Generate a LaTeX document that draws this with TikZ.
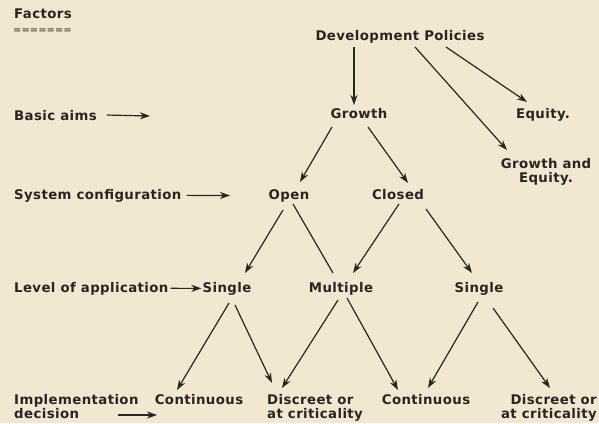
\documentclass[tikz,border=0pt]{standalone}
\usepackage{fontspec}
\setmainfont{DejaVu Sans}[LetterSpace=3]
\newfontfamily\rulefont{DejaVu Sans}
\usetikzlibrary{arrows.meta}
\definecolor{paper}{HTML}{F2E7D0}
\definecolor{ink}{HTML}{2A2521}

\begin{document}
\begin{tikzpicture}[x=1pt,y=-1pt,
  lbl/.style={text=ink, inner sep=1pt, font=\fontsize{13.3}{14}\selectfont\bfseries},
  rulemark/.style={text=ink, inner sep=0pt, font=\rulefont\fontsize{10}{10}\selectfont},
  arr/.style={draw=ink, line width=1.2pt, -{Stealth[length=10pt,width=7pt,inset=3pt]}},
  link/.style={draw=ink, line width=1.2pt}]

% paper
\fill[paper] (0,0) rectangle (599,423);
\useasboundingbox (0,0) rectangle (599,423);

% factor column
\node[lbl, anchor=base west] (fac) at (13,18) {Factors};
\node[rulemark, anchor=base west] (facul) at (13,33) {=======};
\node[lbl, anchor=base west] (ba) at (13,120) {Basic aims};
\node[lbl, anchor=base west] (sc) at (13,199) {System configuration};
\node[lbl, anchor=base west] (la) at (13,292) {Level of application};
\node[lbl, anchor=north west, align=left] (id) at (13,393) {Implementation\\decision};

\coordinate (baT) at (150,116);
\coordinate (scT) at (230,195.5);

% tree of policies
\node[lbl, anchor=base] (dp) at (400,40) {Development Policies};
\node[lbl, anchor=base] (gr) at (359,118) {Growth};
\node[lbl, anchor=base] (eq) at (543,118) {Equity.};
\node[lbl, anchor=north, align=center] (ge) at (546,157) {Growth and\\Equity.};
\node[lbl, anchor=base] (op) at (289,199) {Open};
\node[lbl, anchor=base] (cl) at (398,199) {Closed};
\node[lbl, anchor=base] (sl) at (227,292) {Single};
\node[lbl, anchor=base] (mu) at (341,292) {Multiple};
\node[lbl, anchor=base] (sr) at (479,292) {Single};
\node[lbl, anchor=base] (cn1) at (199,404) {Continuous};
\node[lbl, anchor=north west, align=left] (dc1) at (266,393) {Discreet or\\at criticality};
\node[lbl, anchor=base] (cn2) at (426,404) {Continuous};
\node[lbl, anchor=north east, align=right] (dc2) at (598,393) {Discreet or\\at criticality};

% factor pointers
\draw[arr] ([xshift=9pt]ba.east) -- (baT);
\draw[arr] ([xshift=4pt]sc.east) -- (scT);
\draw[arr, shorten <=1pt] (la.east) -- (sl.west);
\draw[arr] ([shift={(105,22)}]id.north west) -- ([shift={(144,22)}]id.north west);

% connectors
\draw[arr] ([shift={(-46,7)}]dp.base) -- ([shift={(-5,-13)}]gr.base);
\draw[arr] ([shift={(15,7)}]dp.base) -- ([shift={(-39,-7)}]ge.north);
\draw[arr] ([shift={(46,7)}]dp.base) -- ([shift={(-16,-16)}]eq.base);

\draw[arr] ([shift={(-27,9)}]gr.base) -- ([shift={(11,-17)}]op.base);
\draw[arr] ([shift={(9,9)}]gr.base) -- ([shift={(10,-16)}]cl.base);

\draw[arr] ([shift={(-6,11)}]op.base) -- ([shift={(18,-19)}]sl.base);
\draw[link] ([shift={(4,5)}]op.base) -- ([shift={(-8,-19)}]mu.base);
\draw[arr] ([shift={(1,5)}]cl.base) -- ([shift={(12,-19)}]mu.base);
\draw[arr] ([shift={(28,10)}]cl.base) -- ([shift={(-7,-19)}]sr.base);

\draw[arr] ([shift={(2,11)}]sl.base) -- ([shift={(-22,-14)}]cn1.base);
\draw[arr] ([shift={(8,13)}]sl.base) -- ([shift={(6,-10)}]dc1.north west);
\draw[arr] ([shift={(-3,8)}]mu.base) -- ([shift={(16,-5)}]dc1.north west);
\draw[arr] ([shift={(6,6)}]mu.base) -- ([shift={(-28,-14)}]cn2.base);
\draw[arr] ([shift={(-1,10)}]sr.base) -- ([shift={(2,-16)}]cn2.base);
\draw[arr] ([shift={(14,16)}]sr.base) -- ([shift={(-48,-5)}]dc2.north east);
\end{tikzpicture}
\end{document}
